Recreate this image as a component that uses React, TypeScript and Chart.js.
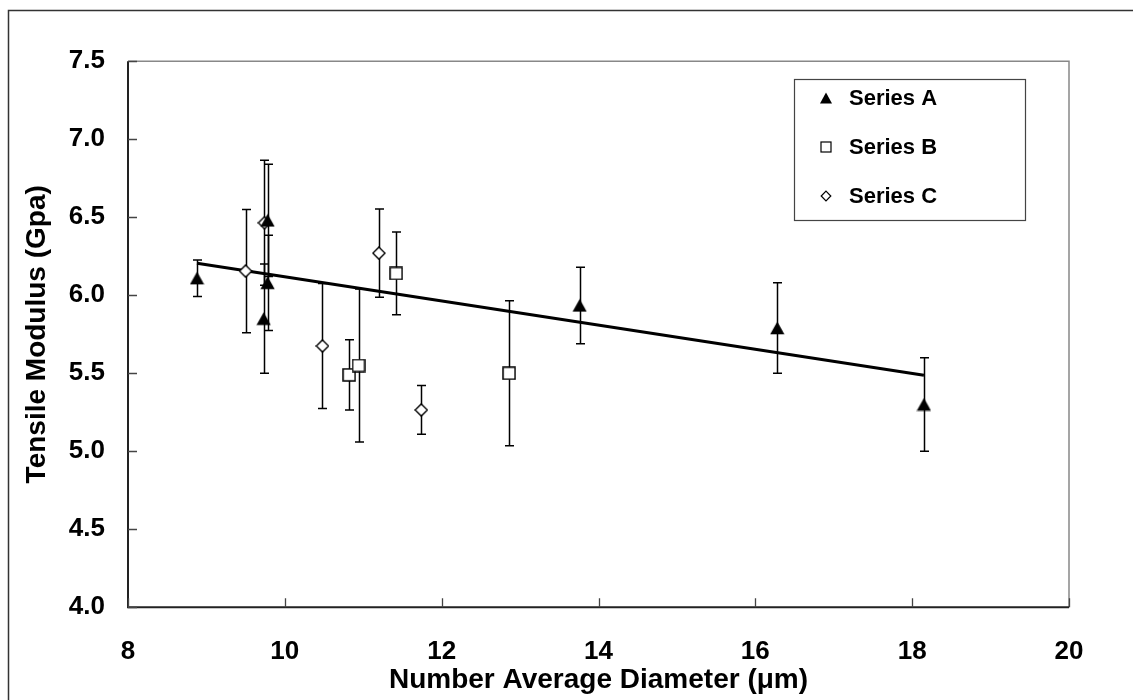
import React, { useEffect, useRef } from 'react';
import { Chart, registerables } from 'chart.js';
Chart.register(...registerables);

// ---- data ----
const seriesAX = [8.88, 9.73, 9.78, 9.78, 13.76, 16.28, 18.15];
const seriesAY = [6.11, 5.85, 6.08, 6.48, 5.935, 5.79, 5.30];
const seriesAErr = [0.117, 0.35, 0.305, 0.36, 0.245, 0.29, 0.30];

const seriesBX = [10.82, 10.94, 11.42, 12.86];
const seriesBY = [5.49, 5.55, 6.14, 5.50];
const seriesBErr = [0.225, 0.49, 0.265, 0.465];

const seriesCX = [9.50, 9.74, 10.48, 11.20, 11.74];
const seriesCY = [6.155, 6.465, 5.675, 6.27, 5.265];
const seriesCErr = [0.395, 0.40, 0.40, 0.283, 0.156];

const trendX = [8.88, 18.15];
const trendY = [6.205, 5.487];

const seriesNames = ['Series A', 'Series B', 'Series C'];
const xTitle = 'Number Average Diameter (\u03BCm)';
const yTitle = 'Tensile Modulus (Gpa)';
const xRange = [8, 20, 2];
const yRange = [4, 7.5, 0.5];

const FONT = '"Liberation Sans", Arial, sans-serif';

function makeMarker(kind: string): HTMLCanvasElement {
  const c = document.createElement('canvas');
  const ctx = c.getContext('2d')!;
  if (kind === 'tri') {
    c.width = 15; c.height = 14;
    ctx.fillStyle = '#000';
    ctx.beginPath();
    ctx.moveTo(7.5, 0.6);
    ctx.lineTo(14.6, 13.2);
    ctx.lineTo(0.4, 13.2);
    ctx.closePath();
    ctx.fill();
  } else if (kind === 'sq') {
    c.width = 14; c.height = 14;
    ctx.fillStyle = '#fff';
    ctx.strokeStyle = '#000';
    ctx.lineWidth = 1.5;
    ctx.fillRect(1, 1, 12, 12);
    ctx.strokeRect(1, 1, 12, 12);
  } else {
    c.width = 14; c.height = 14;
    ctx.fillStyle = '#fff';
    ctx.strokeStyle = '#000';
    ctx.lineWidth = 1.4;
    ctx.beginPath();
    ctx.moveTo(7, 0.9);
    ctx.lineTo(13.1, 7);
    ctx.lineTo(7, 13.1);
    ctx.lineTo(0.9, 7);
    ctx.closePath();
    ctx.fill();
    ctx.stroke();
  }
  return c;
}

const toPts = (xs: number[], ys: number[]) => xs.map((x, i) => ({ x, y: ys[i] }));

export default function App() {
  const ref = useRef<HTMLCanvasElement | null>(null);

  useEffect(() => {
    if (!ref.current) return;
    const errSets = [
      { x: seriesAX, y: seriesAY, e: seriesAErr },
      { x: seriesBX, y: seriesBY, e: seriesBErr },
      { x: seriesCX, y: seriesCY, e: seriesCErr },
    ];

    const decor = {
      id: 'decor',
      beforeDatasetsDraw(chart: any) {
        const { ctx, scales } = chart;
        ctx.save();
        ctx.strokeStyle = '#000';
        ctx.lineWidth = 1.5;
        errSets.forEach((s) => {
          s.x.forEach((xv, i) => {
            const px = Math.round(scales.x.getPixelForValue(xv)) + 0.5;
            const t = scales.y.getPixelForValue(s.y[i] + s.e[i]);
            const b = scales.y.getPixelForValue(s.y[i] - s.e[i]);
            ctx.beginPath();
            ctx.moveTo(px, t);
            ctx.lineTo(px, b);
            ctx.moveTo(px - 4.5, t);
            ctx.lineTo(px + 4.5, t);
            ctx.moveTo(px - 4.5, b);
            ctx.lineTo(px + 4.5, b);
            ctx.stroke();
          });
        });
        ctx.restore();
      },
      afterDraw(chart: any) {
        const { ctx, chartArea: a, scales } = chart;
        ctx.save();
        // outer frame (top and left visible)
        ctx.strokeStyle = '#333';
        ctx.lineWidth = 1.5;
        ctx.beginPath();
        ctx.moveTo(8.5, 700);
        ctx.lineTo(8.5, 10.5);
        ctx.lineTo(1133, 10.5);
        ctx.stroke();
        // plot border top/right grey
        ctx.strokeStyle = '#888';
        ctx.lineWidth = 1.5;
        ctx.beginPath();
        ctx.moveTo(a.left, a.top);
        ctx.lineTo(a.right, a.top);
        ctx.lineTo(a.right, a.bottom);
        ctx.stroke();
        // left/bottom axes
        ctx.strokeStyle = '#222';
        ctx.lineWidth = 2;
        ctx.beginPath();
        ctx.moveTo(a.left, a.top);
        ctx.lineTo(a.left, a.bottom);
        ctx.lineTo(a.right, a.bottom);
        ctx.stroke();
        // inward tick marks
        ctx.strokeStyle = '#444';
        ctx.lineWidth = 1.3;
        ctx.beginPath();
        scales.y.ticks.forEach((t: any) => {
          const py = Math.round(scales.y.getPixelForValue(t.value)) + 0.5;
          ctx.moveTo(a.left, py);
          ctx.lineTo(a.left + 9, py);
        });
        scales.x.ticks.forEach((t: any) => {
          const px = Math.round(scales.x.getPixelForValue(t.value)) + 0.5;
          ctx.moveTo(px, a.bottom);
          ctx.lineTo(px, a.bottom - 9);
        });
        ctx.stroke();

        // legend
        const lx = 794.5, ly = 79.5, lw = 231, lh = 141;
        ctx.fillStyle = '#fff';
        ctx.fillRect(lx, ly, lw, lh);
        ctx.strokeStyle = '#444';
        ctx.lineWidth = 1.2;
        ctx.strokeRect(lx, ly, lw, lh);
        const rows = [98, 147, 196];
        const mx = 826;
        ctx.fillStyle = '#000';
        // triangle
        ctx.beginPath();
        ctx.moveTo(mx, rows[0] - 5.5);
        ctx.lineTo(mx + 6, rows[0] + 5.5);
        ctx.lineTo(mx - 6, rows[0] + 5.5);
        ctx.closePath();
        ctx.fill();
        // square
        ctx.strokeStyle = '#000';
        ctx.lineWidth = 1.2;
        ctx.strokeRect(mx - 5, rows[1] - 5, 10, 10);
        // diamond
        ctx.beginPath();
        ctx.moveTo(mx, rows[2] - 4.8);
        ctx.lineTo(mx + 4.8, rows[2]);
        ctx.lineTo(mx, rows[2] + 4.8);
        ctx.lineTo(mx - 4.8, rows[2]);
        ctx.closePath();
        ctx.stroke();
        ctx.font = 'bold 22px ' + FONT;
        ctx.textBaseline = 'middle';
        ctx.textAlign = 'left';
        ctx.fillStyle = '#000';
        seriesNames.forEach((n, i) => ctx.fillText(n, 849, rows[i] + 1));
        ctx.restore();
      },
    };

    const chart = new Chart(ref.current, {
      type: 'scatter',
      data: {
        datasets: [
          {
            label: seriesNames[0],
            data: toPts(seriesAX, seriesAY),
            pointStyle: makeMarker('tri'),
            pointRadius: 7,
            showLine: false,
          },
          {
            label: seriesNames[1],
            data: toPts(seriesBX, seriesBY),
            pointStyle: makeMarker('sq'),
            pointRadius: 7,
            showLine: false,
          },
          {
            label: seriesNames[2],
            data: toPts(seriesCX, seriesCY),
            pointStyle: makeMarker('dia'),
            pointRadius: 7,
            showLine: false,
          },
          {
            label: 'trend',
            data: toPts(trendX, trendY),
            showLine: true,
            borderColor: '#000',
            borderWidth: 3,
            pointRadius: 0,
            fill: false,
          } as any,
        ],
      },
      options: {
        animation: false,
        responsive: false,
        layout: { padding: { left: 0, right: 64, top: 61.3, bottom: 0 } },
        plugins: { legend: { display: false }, tooltip: { enabled: false } },
        scales: {
          x: {
            type: 'linear',
            min: xRange[0],
            max: xRange[1],
            afterFit: (s: any) => { s.height = 92.7; },
            grid: { display: false, drawTicks: false },
            border: { display: false },
            ticks: {
              stepSize: xRange[2],
              padding: 29,
              color: '#000',
              font: { family: FONT, size: 26, weight: 'bold' },
            },
            title: {
              display: true,
              text: xTitle,
              color: '#000',
              padding: { top: 0, bottom: 2.5 },
              font: { family: FONT, size: 28, weight: 'bold' },
            },
          },
          y: {
            type: 'linear',
            min: yRange[0],
            max: yRange[1],
            afterFit: (s: any) => { s.width = 128; },
            grid: { display: false, drawTicks: false },
            border: { display: false },
            ticks: {
              stepSize: yRange[2],
              padding: 23,
              color: '#000',
              font: { family: FONT, size: 26, weight: 'bold' },
              callback: (v: any) => Number(v).toFixed(1),
            },
            title: {
              display: true,
              text: yTitle,
              color: '#000',
              padding: { top: 20, bottom: 0 },
              font: { family: FONT, size: 28, weight: 'bold' },
            },
          },
        },
      } as any,
      plugins: [decor],
    });
    return () => chart.destroy();
  }, []);

  return (
    <div style={{ position: 'absolute', left: 0, top: 0, width: 1133, height: 700, background: '#fff' }}>
      <canvas ref={ref} width={1133} height={700} style={{ display: 'block' }} />
    </div>
  );
}
